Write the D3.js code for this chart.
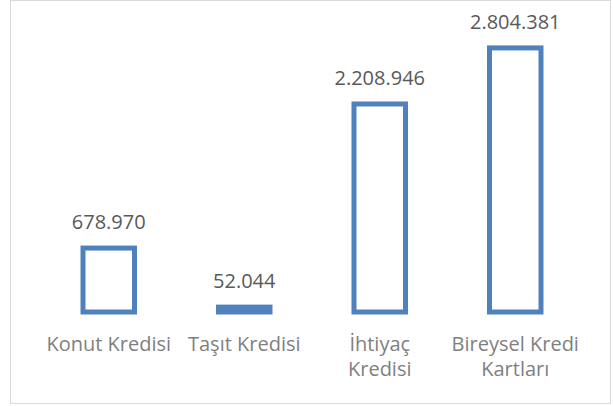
<!DOCTYPE html>
<html>
<head>
<meta charset="utf-8">
<script src="https://cdn.jsdelivr.net/npm/d3@7"></script>
<style>
  body { margin: 0; background: #fff; }
  text { font-family: "Open Sans", "Noto Sans", sans-serif; }
</style>
</head>
<body>
<div id="chart"></div>
<script>
// chart data
const categories = ["Konut Kredisi", "Taşıt Kredisi", "İhtiyaç Kredisi", "Bireysel Kredi Kartları"];
const categoryLines = [["Konut Kredisi"], ["Taşıt Kredisi"], ["İhtiyaç", "Kredisi"], ["Bireysel Kredi", "Kartları"]];
const values = [678970, 52044, 2208946, 2804381];
const valueLabels = ["678.970", "52.044", "2.208.946", "2.804.381"];

const width = 613, height = 406;

const svg = d3.select("#chart")
  .append("svg")
  .attr("width", width)
  .attr("height", height);

// chart area border
svg.append("rect")
  .attr("x", 10.5)
  .attr("y", 0.5)
  .attr("width", 600)
  .attr("height", 403)
  .attr("fill", "#fff")
  .attr("stroke", "#d9d9d9")
  .attr("stroke-width", 1);

// scales
const x = d3.scaleBand()
  .domain(categories)
  .range([41, 583])
  .paddingInner(0.62)
  .paddingOuter(0.31);

const y = d3.scaleLinear()
  .domain([0, 3000000])
  .range([312, 29.5]);

// bars (outline only)
svg.selectAll(".bar")
  .data(categories)
  .enter()
  .append("rect")
  .attr("class", "bar")
  .attr("x", d => x(d))
  .attr("y", (d, i) => y(values[i]))
  .attr("width", x.bandwidth())
  .attr("height", (d, i) => y(0) - y(values[i]))
  .attr("fill", "#fff")
  .attr("stroke", "#4f81bd")
  .attr("stroke-width", 5);

// value labels
svg.selectAll(".value-label")
  .data(categories)
  .enter()
  .append("text")
  .attr("class", "value-label")
  .attr("x", d => x(d) + x.bandwidth() / 2)
  .attr("y", (d, i) => y(values[i]) - 19)
  .attr("text-anchor", "middle")
  .style("font-size", "20px")
  .style("fill", "#595959")
  .text((d, i) => valueLabels[i]);

// category labels (wrapped like the original)
const catLabels = svg.selectAll(".cat-label")
  .data(categories)
  .enter()
  .append("text")
  .attr("class", "cat-label")
  .attr("text-anchor", "middle")
  .style("font-size", "20px")
  .style("fill", "#7f7f7f");

catLabels.each(function (d, i) {
  const t = d3.select(this);
  categoryLines[i].forEach((line, j) => {
    t.append("tspan")
      .attr("x", x(d) + x.bandwidth() / 2)
      .attr("y", 351 + j * 25)
      .text(line);
  });
});
</script>
</body>
</html>
